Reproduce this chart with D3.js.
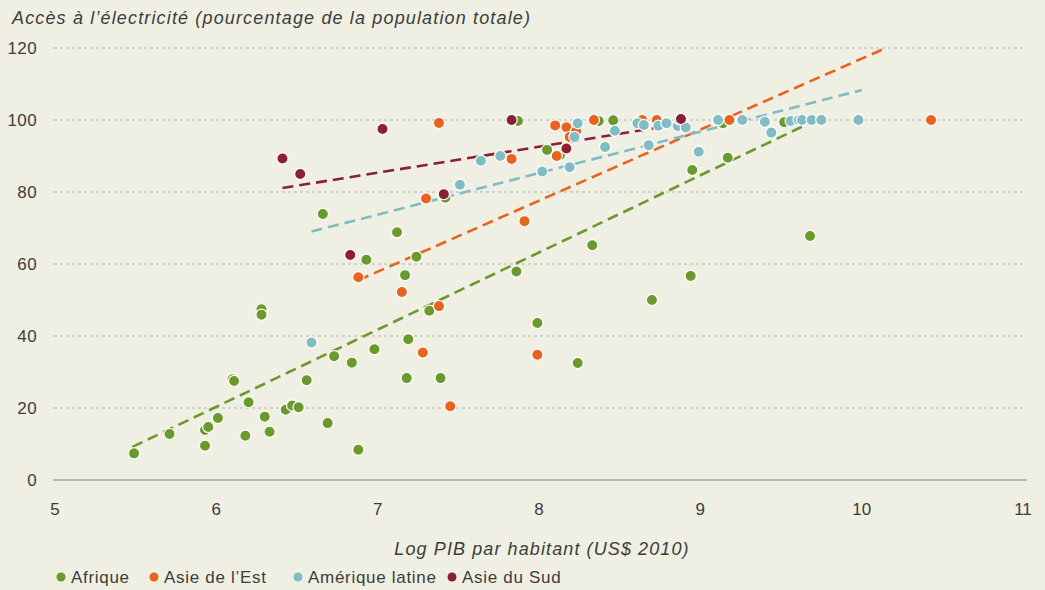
<!DOCTYPE html>
<html>
<head>
<meta charset="utf-8">
<script src="https://cdn.jsdelivr.net/npm/d3@7"></script>
<style>
  html, body { margin: 0; padding: 0; background: #eff0e3; }
  svg { display: block; }
  text { font-family: "Liberation Sans", Arial, sans-serif; fill: #3c3c3c; }
</style>
</head>
<body>
<svg id="chart" width="1045" height="590"></svg>
<script>
// Series: [log GDP per capita, access to electricity %]
const afrique = [
  [5.49, 7.4], [5.71, 12.8], [5.93, 9.5], [5.93, 13.9], [5.95, 14.7], [6.01, 17.2],
  [6.10, 28.0], [6.11, 27.5], [6.18, 12.3], [6.20, 21.6], [6.28, 47.4], [6.28, 45.9],
  [6.30, 17.6], [6.33, 13.4], [6.43, 19.5], [6.47, 20.7], [6.51, 20.2], [6.56, 27.7],
  [6.66, 73.9], [6.69, 15.8], [6.73, 34.4], [6.84, 32.6], [6.88, 8.4], [6.93, 61.2],
  [6.98, 36.3], [7.12, 68.8], [7.17, 56.9], [7.18, 28.3], [7.19, 39.1], [7.24, 62.0],
  [7.32, 47.0], [7.39, 28.3], [7.42, 78.4], [7.86, 57.9], [7.87, 99.7], [7.99, 43.6],
  [8.05, 91.7], [8.13, 90.2], [8.24, 32.5], [8.33, 65.2], [8.37, 99.7], [8.46, 99.9],
  [8.70, 50.0], [8.94, 56.7], [8.95, 86.1], [9.14, 99.1], [9.17, 89.5], [9.52, 99.4],
  [9.68, 67.8]
];
const asieEst = [
  [6.88, 56.3], [7.15, 52.2], [7.28, 35.4], [7.30, 78.2], [7.38, 48.3], [7.38, 99.2],
  [7.45, 20.5], [7.83, 89.2], [7.91, 71.9], [7.99, 34.8], [8.10, 98.5], [8.11, 90.0],
  [8.17, 98.0], [8.19, 95.3], [8.23, 96.9], [8.34, 100], [8.64, 100], [8.73, 100],
  [9.18, 100], [10.43, 100]
];
const ameriqueLatine = [
  [6.59, 38.2], [7.51, 82.0], [7.64, 88.7], [7.76, 90.0], [8.02, 85.7], [8.19, 86.9],
  [8.22, 95.3], [8.24, 99.1], [8.41, 92.5], [8.47, 97.0], [8.61, 99.1], [8.65, 98.6],
  [8.68, 93.0], [8.74, 98.4], [8.79, 99.1], [8.86, 98.3], [8.87, 100.2], [8.91, 97.9],
  [8.99, 91.2], [9.11, 100], [9.26, 100], [9.40, 99.5], [9.44, 96.5], [9.56, 99.7],
  [9.61, 100], [9.63, 100], [9.69, 100], [9.75, 100], [9.98, 100]
];
const asieSud = [
  [6.41, 89.3], [6.52, 85.0], [6.83, 62.5], [7.03, 97.5], [7.41, 79.4], [7.83, 100],
  [8.17, 92.1], [8.88, 100.3]
];

// Fitted trend lines, start and end points
const trendAfrique = [[5.48, 9.2], [9.68, 99.2]];
const trendAsieEst = [[6.88, 55.5], [10.15, 120]];
const trendAmerique = [[6.59, 69.0], [10.0, 108.3]];
const trendAsieSud = [[6.41, 81.1], [8.85, 98.7]];

const seriesNames = ["Afrique", "Asie de l\u2019Est", "Am\u00e9rique latine", "Asie du Sud"];
const seriesColors = ["#6b9a2c", "#e8631f", "#80bcc4", "#8b1f36"];

const xTicks = [5, 6, 7, 8, 9, 10, 11];
const yTicks = [0, 20, 40, 60, 80, 100, 120];

const yTitle = "Acc\u00e8s \u00e0 l\u2019\u00e9lectricit\u00e9 (pourcentage de la population totale)";
const xTitle = "Log PIB par habitant (US$ 2010)";

const series = [
  { name: seriesNames[0], color: seriesColors[0], points: afrique, trend: trendAfrique },
  { name: seriesNames[1], color: seriesColors[1], points: asieEst, trend: trendAsieEst },
  { name: seriesNames[2], color: seriesColors[2], points: ameriqueLatine, trend: trendAmerique },
  { name: seriesNames[3], color: seriesColors[3], points: asieSud, trend: trendAsieSud }
];

const svg = d3.select("#chart");
const x = d3.scaleLinear().domain([5, 11]).range([55, 1023]);
const y = d3.scaleLinear().domain([0, 120]).range([480, 48]);

// Horizontal dashed gridlines
svg.append("g")
  .selectAll("line")
  .data(yTicks.filter(d => d > 0))
  .join("line")
  .attr("x1", 60).attr("x2", 1025)
  .attr("y1", d => y(d)).attr("y2", d => y(d))
  .attr("stroke", "#b3b3ac").attr("stroke-width", 1.2)
  .attr("stroke-dasharray", "3,3");

// Small tick marks on the left
svg.append("g")
  .selectAll("line")
  .data(yTicks.filter(d => d > 0))
  .join("line")
  .attr("x1", 53).attr("x2", 57)
  .attr("y1", d => y(d)).attr("y2", d => y(d))
  .attr("stroke", "#b3b3ac").attr("stroke-width", 1);

// Baseline
svg.append("line")
  .attr("x1", 53).attr("x2", 1027)
  .attr("y1", y(0)).attr("y2", y(0))
  .attr("stroke", "#a8a8a2").attr("stroke-width", 1.5);

// Y tick labels
svg.append("g")
  .selectAll("text")
  .data(yTicks)
  .join("text")
  .attr("x", 37)
  .attr("y", d => y(d) + 6)
  .attr("text-anchor", "end")
  .style("font-size", "17px")
  .style("letter-spacing", "0.4px")
  .text(d => d);

// X tick labels
svg.append("g")
  .selectAll("text")
  .data(xTicks)
  .join("text")
  .attr("x", d => x(d))
  .attr("y", 515)
  .attr("text-anchor", "middle")
  .style("font-size", "17px")
  .text(d => d);

// Axis titles
svg.append("text")
  .attr("x", 12).attr("y", 24)
  .style("font-size", "18px")
  .style("font-style", "italic")
  .style("letter-spacing", "1.15px")
  .text(yTitle);

svg.append("text")
  .attr("x", 542).attr("y", 555)
  .attr("text-anchor", "middle")
  .style("font-size", "18px")
  .style("font-style", "italic")
  .style("letter-spacing", "1.1px")
  .text(xTitle);

// Trend lines (clipped to the plot area)
svg.append("clipPath").attr("id", "plot-clip")
  .append("rect").attr("x", 40).attr("y", y(120)).attr("width", 1000).attr("height", y(0) - y(120));

const line = d3.line().x(d => x(d[0])).y(d => y(d[1]));
svg.append("g")
  .attr("clip-path", "url(#plot-clip)")
  .selectAll("path")
  .data(series)
  .join("path")
  .attr("d", d => line(d.trend))
  .attr("fill", "none")
  .attr("stroke", d => d.color)
  .attr("stroke-width", 2.6)
  .attr("stroke-dasharray", "11,6");

// Scatter points
series.forEach(s => {
  svg.append("g")
    .selectAll("circle")
    .data(s.points)
    .join("circle")
    .attr("cx", d => x(d[0]))
    .attr("cy", d => y(d[1]))
    .attr("r", 5.6)
    .attr("fill", s.color)
    .attr("stroke", "#ffffff")
    .attr("stroke-width", 1.2);
});

// Legend
const legendX = [61, 154, 298, 452];
const legend = svg.append("g")
  .selectAll("g")
  .data(series)
  .join("g")
  .attr("transform", (d, i) => `translate(${legendX[i]},577)`);
legend.append("circle").attr("r", 4.5).attr("fill", d => d.color);
legend.append("text")
  .attr("x", 10).attr("y", 6)
  .style("font-size", "17px")
  .style("letter-spacing", "0.7px")
  .text(d => d.name);
</script>
</body>
</html>
